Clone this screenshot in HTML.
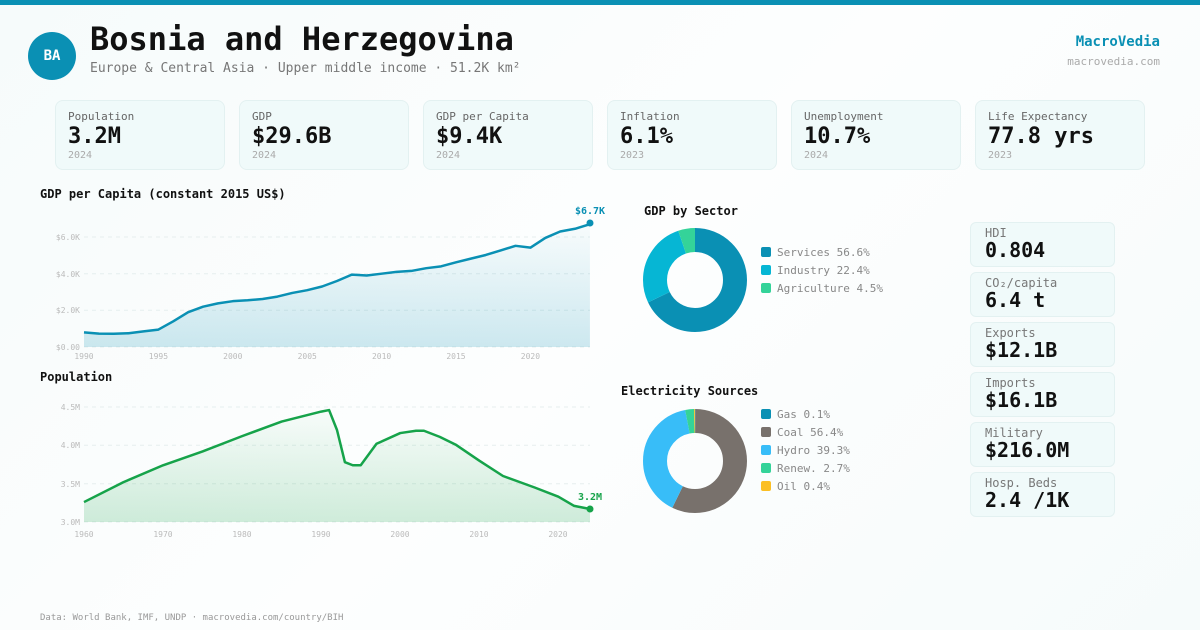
<!DOCTYPE html>
<html><head><meta charset="utf-8"><style>
*{margin:0;padding:0;box-sizing:border-box}
body{width:1200px;height:630px;overflow:hidden;font-family:"DejaVu Sans Mono","Liberation Mono",monospace;background:linear-gradient(135deg,#f6fbfb,#fdfefe 50%,#f6fbfb);position:relative;color:#111}
.a{position:absolute}
.card{position:absolute;top:100px;width:170px;height:70px;border:1px solid #e3f1f1;background:#f0fafa;border-radius:8px;padding:9px 12px}
.card .l{font-size:11px;color:#666}
.card .v{font-size:22px;font-weight:bold;line-height:26px;margin-top:1px}
.card .y{font-size:10px;color:#aaa}
.rc{position:absolute;left:970px;width:145px;height:45px;border:1px solid #e3f1f1;background:#f0fafa;border-radius:6px;padding:4px 14px}
.rc .l{font-size:12px;color:#777;line-height:13px}
.rc .v{font-size:20px;font-weight:bold;line-height:20px}
.lg{font-size:11px;color:#888;line-height:18px}
.lg i{display:inline-block;width:10px;height:10px;border-radius:2px;margin-right:6px;vertical-align:-1px}
</style></head><body>
<div class="a" style="left:0;top:0;width:1200px;height:5px;background:#0a90b4"></div>
<div class="a" style="left:28px;top:32px;width:48px;height:48px;border-radius:50%;background:#0a90b4;color:#fff;font-weight:bold;font-size:14px;text-align:center;line-height:48px">BA</div>
<div class="a" style="left:90px;top:17px;font-size:32px;font-weight:bold;line-height:44px">Bosnia and Herzegovina</div>
<div class="a" style="left:90px;top:61px;font-size:13px;color:#777">Europe &amp; Central Asia · Upper middle income · 51.2K km²</div>
<div class="a" style="right:40px;top:34px;font-size:14px;font-weight:bold;color:#0a90b4">MacroVedia</div>
<div class="a" style="right:40px;top:55px;font-size:11px;color:#aaa">macrovedia.com</div>

<div class="card" style="left:55px"><div class="l">Population</div><div class="v">3.2M</div><div class="y">2024</div></div>
<div class="card" style="left:239px"><div class="l">GDP</div><div class="v">$29.6B</div><div class="y">2024</div></div>
<div class="card" style="left:423px"><div class="l">GDP per Capita</div><div class="v">$9.4K</div><div class="y">2024</div></div>
<div class="card" style="left:607px"><div class="l">Inflation</div><div class="v">6.1%</div><div class="y">2023</div></div>
<div class="card" style="left:791px"><div class="l">Unemployment</div><div class="v">10.7%</div><div class="y">2024</div></div>
<div class="card" style="left:975px"><div class="l">Life Expectancy</div><div class="v">77.8 yrs</div><div class="y">2023</div></div>

<div class="a" style="left:40px;top:187px;font-size:12px;font-weight:bold">GDP per Capita (constant 2015 US$)</div>
<div class="a" style="left:40px;top:370px;font-size:12px;font-weight:bold">Population</div>

<svg class="a" style="left:0;top:0" width="1200" height="630">
<defs>
<linearGradient id="gb" x1="0" y1="0" x2="0" y2="1"><stop offset="0" stop-color="#0a90b4" stop-opacity=".2"/><stop offset="1" stop-color="#0a90b4" stop-opacity=".02"/></linearGradient>
<linearGradient id="gg" x1="0" y1="0" x2="0" y2="1"><stop offset="0" stop-color="#16a34a" stop-opacity=".2"/><stop offset="1" stop-color="#16a34a" stop-opacity=".02"/></linearGradient>
</defs>
<g stroke="#e6eeee" stroke-dasharray="4 4" stroke-width="1">
<line x1="84" x2="590" y1="237" y2="237"/><line x1="84" x2="590" y1="273.7" y2="273.7"/><line x1="84" x2="590" y1="310.3" y2="310.3"/><line x1="84" x2="590" y1="347" y2="347"/>
<line x1="84" x2="590" y1="407" y2="407"/><line x1="84" x2="590" y1="445.3" y2="445.3"/><line x1="84" x2="590" y1="483.7" y2="483.7"/><line x1="84" x2="590" y1="522" y2="522"/>
</g>
<g font-size="8" fill="#bbb" font-family="DejaVu Sans Mono,monospace">
<text x="80" y="240" text-anchor="end">$6.0K</text><text x="80" y="277" text-anchor="end">$4.0K</text><text x="80" y="313" text-anchor="end">$2.0K</text><text x="80" y="350" text-anchor="end">$0.00</text>
<g text-anchor="middle"><text x="84" y="359">1990</text><text x="158.4" y="359">1995</text><text x="232.8" y="359">2000</text><text x="307.2" y="359">2005</text><text x="381.6" y="359">2010</text><text x="456" y="359">2015</text><text x="530.4" y="359">2020</text></g>
<text x="80" y="410" text-anchor="end">4.5M</text><text x="80" y="448" text-anchor="end">4.0M</text><text x="80" y="487" text-anchor="end">3.5M</text><text x="80" y="525" text-anchor="end">3.0M</text>
<g text-anchor="middle"><text x="84" y="537">1960</text><text x="163" y="537">1970</text><text x="242" y="537">1980</text><text x="321" y="537">1990</text><text x="400" y="537">2000</text><text x="479" y="537">2010</text><text x="558" y="537">2020</text></g>
</g>
<g transform="translate(84,347) scale(14.88,-18.33)">
<polygon fill="url(#gb)" points="0,0 0,0.8 1,0.73 2,0.72 3,0.75 4,0.85 5,0.95 6,1.4 7,1.9 8,2.2 9,2.38 10,2.5 11,2.55 12,2.62 13,2.75 14,2.95 15,3.1 16,3.3 17,3.6 18,3.95 19,3.9 20,4.0 21,4.1 22,4.15 23,4.3 24,4.4 25,4.62 26,4.82 27,5.02 28,5.27 29,5.52 30,5.42 31,5.95 32,6.3 33,6.45 34,6.7 34,0"/>
<polyline fill="none" stroke="#0a90b4" stroke-width="2.5" vector-effect="non-scaling-stroke" stroke-linejoin="round" points="0,0.8 1,0.73 2,0.72 3,0.75 4,0.85 5,0.95 6,1.4 7,1.9 8,2.2 9,2.38 10,2.5 11,2.55 12,2.62 13,2.75 14,2.95 15,3.1 16,3.3 17,3.6 18,3.95 19,3.9 20,4.0 21,4.1 22,4.15 23,4.3 24,4.4 25,4.62 26,4.82 27,5.02 28,5.27 29,5.52 30,5.42 31,5.95 32,6.3 33,6.45 34,6.7"/>
</g>
<circle cx="590" cy="223" r="3.5" fill="#0a90b4"/>
<text x="590" y="214" font-size="10" font-weight="bold" fill="#0a90b4" text-anchor="middle" font-family="DejaVu Sans Mono,monospace">$6.7K</text>
<g transform="translate(84,522) scale(7.906,-76.67)">
<polygon fill="url(#gg)" points="0,0 0,0.26 5,0.52 10,0.74 15,0.92 20,1.12 25,1.31 30,1.44 31,1.46 32,1.2 33,0.78 34,0.74 35,0.74 36,0.88 37,1.02 40,1.16 42,1.19 43,1.19 45,1.11 47,1.01 50,0.8 53,0.6 57,0.45 60,0.33 62,0.21 64,0.17 64,0"/>
<polyline fill="none" stroke="#16a34a" stroke-width="2.5" vector-effect="non-scaling-stroke" stroke-linejoin="round" points="0,0.26 5,0.52 10,0.74 15,0.92 20,1.12 25,1.31 30,1.44 31,1.46 32,1.2 33,0.78 34,0.74 35,0.74 36,0.88 37,1.02 40,1.16 42,1.19 43,1.19 45,1.11 47,1.01 50,0.8 53,0.6 57,0.45 60,0.33 62,0.21 64,0.17"/>
</g>
<circle cx="590" cy="509" r="3.5" fill="#16a34a"/>
<text x="590" y="500" font-size="10" font-weight="bold" fill="#16a34a" text-anchor="middle" font-family="DejaVu Sans Mono,monospace">3.2M</text>

<g transform="translate(695,280) rotate(-90)" fill="none" stroke-width="24">
<circle r="40" stroke="#0a90b4" stroke-dasharray="170.4 251.3"/>
<circle r="40" stroke="#06b6d4" stroke-dasharray="0 170.4 67.4 251.3"/>
<circle r="40" stroke="#34d399" stroke-dasharray="0 237.8 13.5 251.3"/>
</g>
<g transform="translate(695,461) rotate(-90)" fill="none" stroke-width="24">
<circle r="40" stroke="#0a90b4" stroke-dasharray="0.3 251.3"/>
<circle r="40" stroke="#78716c" stroke-dasharray="0 0.3 143.2 251.3"/>
<circle r="40" stroke="#38bdf8" stroke-dasharray="0 143.5 99.8 251.3"/>
<circle r="40" stroke="#34d399" stroke-dasharray="0 243.3 6.9 251.3"/>
<circle r="40" stroke="#fbbf24" stroke-dasharray="0 250.2 1.1 251.3"/>
</g>
</svg>

<div class="a" style="left:644px;top:204px;font-size:12px;font-weight:bold">GDP by Sector</div>
<div class="a lg" style="left:761px;top:244px"><div><i style="background:#0a90b4"></i>Services 56.6%</div><div><i style="background:#06b6d4"></i>Industry 22.4%</div><div><i style="background:#34d399"></i>Agriculture 4.5%</div></div>
<div class="a" style="left:621px;top:384px;font-size:12px;font-weight:bold">Electricity Sources</div>
<div class="a lg" style="left:761px;top:406px"><div><i style="background:#0a90b4"></i>Gas 0.1%</div><div><i style="background:#78716c"></i>Coal 56.4%</div><div><i style="background:#38bdf8"></i>Hydro 39.3%</div><div><i style="background:#34d399"></i>Renew. 2.7%</div><div><i style="background:#fbbf24"></i>Oil 0.4%</div></div>

<div class="rc" style="top:222px"><div class="l">HDI</div><div class="v">0.804</div></div>
<div class="rc" style="top:272px"><div class="l">CO₂/capita</div><div class="v">6.4 t</div></div>
<div class="rc" style="top:322px"><div class="l">Exports</div><div class="v">$12.1B</div></div>
<div class="rc" style="top:372px"><div class="l">Imports</div><div class="v">$16.1B</div></div>
<div class="rc" style="top:422px"><div class="l">Military</div><div class="v">$216.0M</div></div>
<div class="rc" style="top:472px"><div class="l">Hosp. Beds</div><div class="v">2.4 /1K</div></div>

<div class="a" style="left:40px;top:613px;font-size:9px;color:#999">Data: World Bank, IMF, UNDP · macrovedia.com/country/BIH</div>
</body></html>
